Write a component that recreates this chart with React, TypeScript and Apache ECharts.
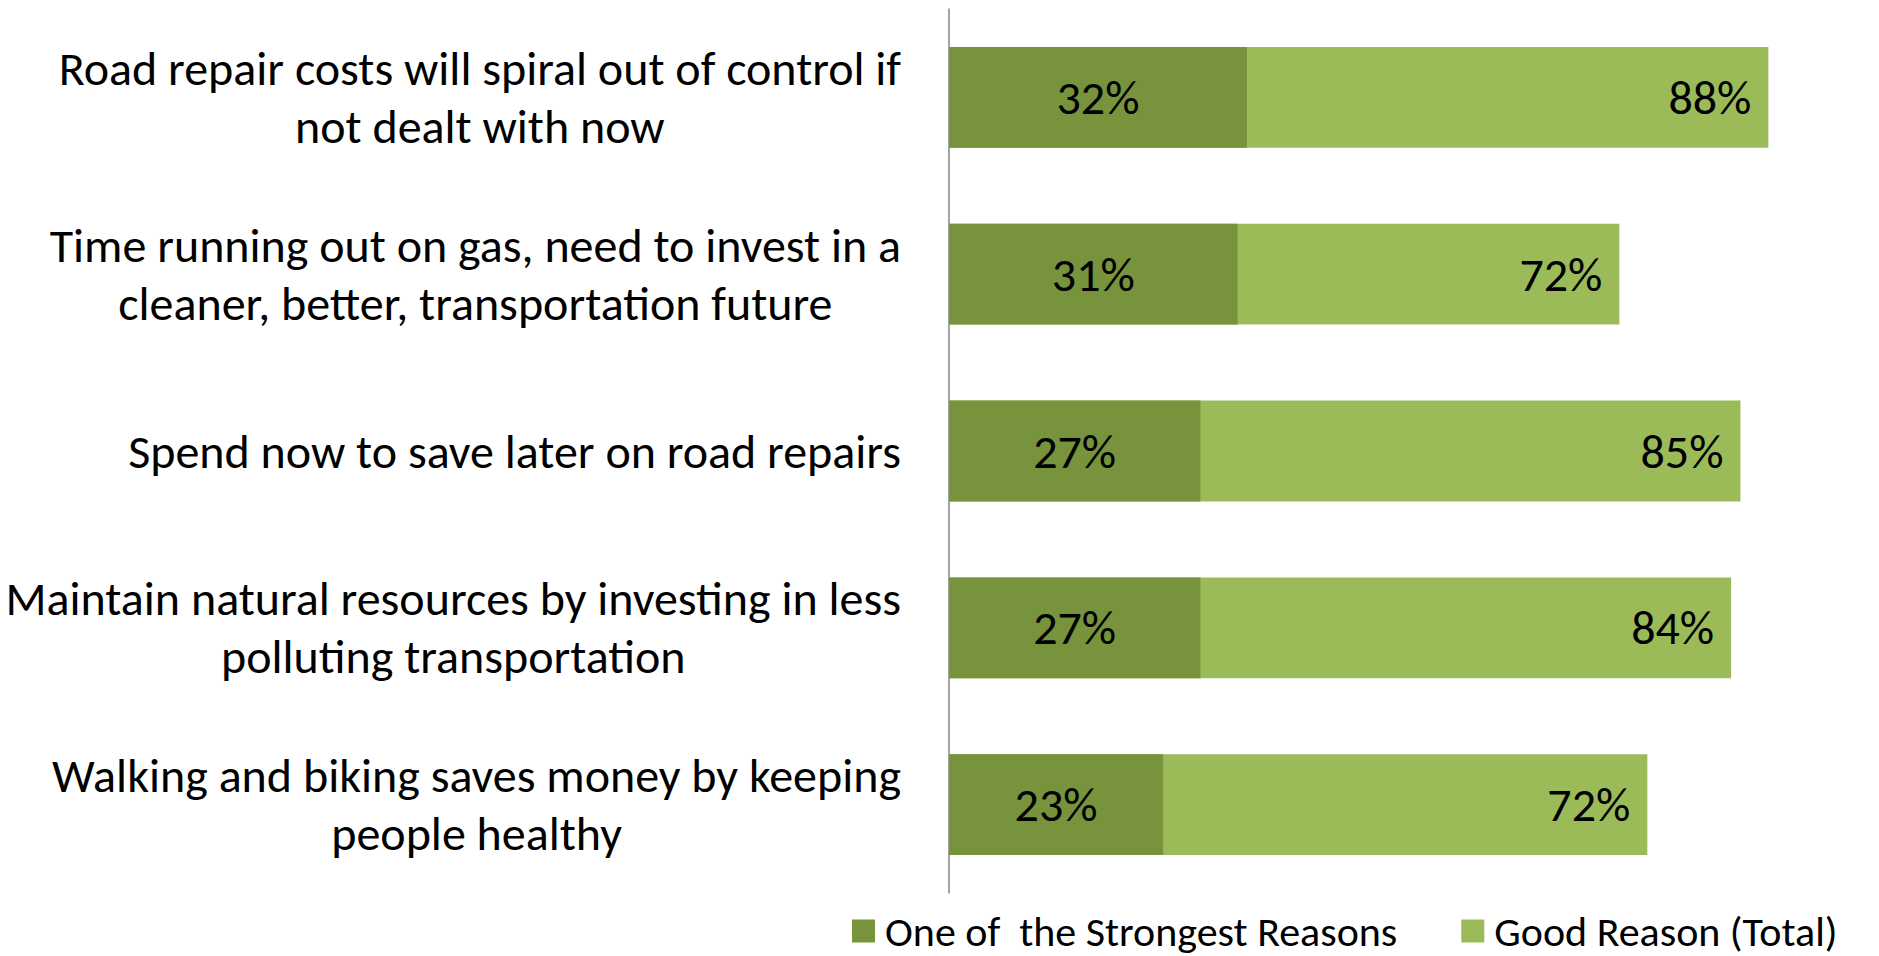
import React, { useEffect, useRef } from "react";
import * as echarts from "echarts";

const categories = [
  "Road repair costs will spiral out of control if\nnot dealt with now",
  "Time running out on gas, need to invest in a\ncleaner, better, transportation future",
  "Spend now to save later on road repairs",
  "Maintain natural resources by investing in less\npolluting transportation",
  "Walking and biking saves money by keeping\npeople healthy",
];
const strongest = [32, 31, 27, 27, 23];
const goodReason = [88, 72, 85, 84, 75];
const strongestLabels = ["32%", "31%", "27%", "27%", "23%"];
const goodReasonLabels = ["88%", "72%", "85%", "84%", "72%"];
const seriesNames = ["One of  the Strongest Reasons", "Good Reason (Total)"];

const FONT = "Carlito, Lato, 'Open Sans', sans-serif";

export default function App() {
  const ref = useRef<HTMLDivElement>(null);
  useEffect(() => {
    document.body.style.margin = "0";
    const chart = echarts.init(ref.current!, null, { renderer: "svg" });
    chart.setOption({
      animation: false,
      textStyle: { fontFamily: FONT },
      grid: { left: 949, top: 9, width: 838, height: 884, containLabel: false },
      xAxis: {
        type: "value",
        min: 0,
        max: 90,
        show: false,
      },
      yAxis: {
        type: "category",
        data: categories,
        inverse: true,
        axisLine: { show: true, lineStyle: { color: "#868686", width: 1.5 } },
        axisTick: { show: false },
        axisLabel: {
          margin: 48,
          formatter: (v: string) =>
            v.split("\n").map((l) => "{c|" + l + "}").join("\n"),
          rich: {
            c: {
              align: "center",
              fontSize: 48,
              lineHeight: 58,
              color: "#000",
              fontFamily: FONT,
            },
          },
        },
      },
      legend: {
        data: [seriesNames[0], seriesNames[1]],
        left: 852,
        top: 910,
        padding: 0,
        itemWidth: 23,
        itemHeight: 23,
        itemGap: 64,
        icon: "rect",
        textStyle: {
          fontSize: 42,
          lineHeight: 34,
          color: "#000",
          fontFamily: FONT,
          padding: [0, 0, 4, 5],
        },
      },
      series: [
        {
          name: seriesNames[1],
          type: "bar",
          data: goodReason,
          barGap: "-100%",
          barCategoryGap: "43%",
          itemStyle: { color: "#9BBB59" },
          z: 2,
          label: {
            show: true,
            position: "insideRight",
            distance: 17,
            formatter: (p: any) => goodReasonLabels[p.dataIndex],
            fontSize: 48,
            color: "#000",
            fontFamily: FONT,
          },
        },
        {
          name: seriesNames[0],
          type: "bar",
          data: strongest,
          barGap: "-100%",
          barCategoryGap: "43%",
          itemStyle: { color: "#77933C" },
          z: 3,
          label: {
            show: true,
            position: "inside",
            formatter: (p: any) => strongestLabels[p.dataIndex],
            fontSize: 48,
            color: "#000",
            fontFamily: FONT,
          },
        },
      ],
    });
    return () => chart.dispose();
  }, []);
  return <div ref={ref} style={{ width: 1879, height: 956 }} />;
}
